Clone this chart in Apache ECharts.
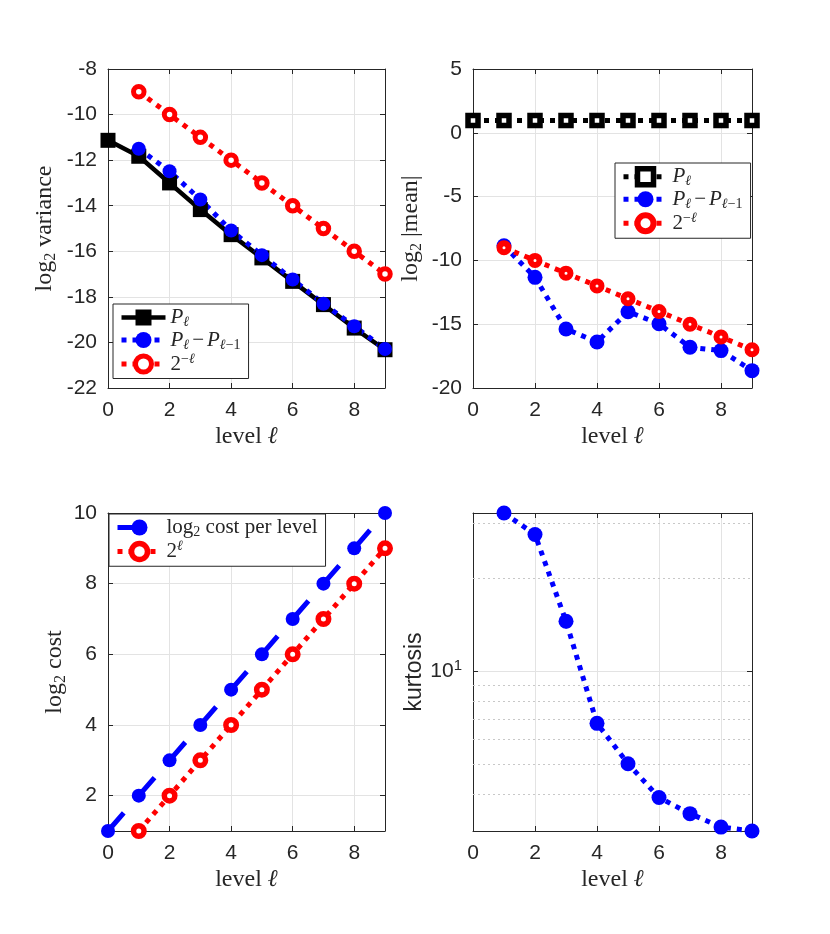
<!DOCTYPE html>
<html>
<head>
<meta charset="utf-8">
<title>MLMC level diagnostics</title>
<script src="https://cdn.jsdelivr.net/npm/echarts@6/dist/echarts.min.js"></script>
<style>
  html, body { margin: 0; padding: 0; background: #fff; }
  #chart { width: 830px; height: 934px; }
</style>
</head>
<body>
<div id="chart"></div>
<script>
  // levels
  const levelsAll = [0, 1, 2, 3, 4, 5, 6, 7, 8, 9];
  const levelsFine = [1, 2, 3, 4, 5, 6, 7, 8, 9];
  const xTickLabels = [0, 2, 4, 6, 8];

  // log2 variance
  const varP = [-11.13, -11.83, -13.0, -14.17, -15.27, -16.29, -17.32, -18.34, -19.37, -20.32];
  const varDP = [-11.5, -12.49, -13.73, -15.09, -16.17, -17.24, -18.30, -19.29, -20.29];
  const varRef = [-9, -10, -11, -12, -13, -14, -15, -16, -17];

  // log2 |mean|
  const meanP = [0.97, 0.97, 0.97, 0.97, 0.97, 0.97, 0.97, 0.97, 0.97, 0.97];
  const meanDP = [-8.85, -11.33, -15.38, -16.39, -14.02, -14.96, -16.81, -17.07, -18.64];
  const meanRef = [-9, -10, -11, -12, -13, -14, -15, -16, -17];

  // log2 cost
  const costLevel = [1, 2, 3, 4, 5, 6, 7, 8, 9, 10];
  const costRef = [1, 2, 3, 4, 5, 6, 7, 8, 9];

  // kurtosis (log axis)
  const kurt = [32.5, 27.7, 14.5, 6.78, 5.02, 3.90, 3.46, 3.13, 3.04];
  const kurtMinorGrid = [4, 5, 6, 7, 8, 9, 20, 30];

  const AX = '#262626';
  const GRIDC = '#e3e3e3';
  const SERIF = 'Liberation Serif';
  const SANS = 'Liberation Sans';
  const BLUE = '#0000ff';
  const RED = '#ff0000';
  const TICK_FS = 21;

  function pairs(xs, ys) { return xs.map(function (x, i) { return [x, ys[i]]; }); }

  function texRich(size, lh) {
    const sub = Math.round(size * 0.68);
    return {
      n: { fontFamily: SERIF, fontSize: size, lineHeight: lh, color: AX },
      i: { fontFamily: SERIF, fontStyle: 'italic', fontSize: size, lineHeight: lh, color: AX },
      m: { fontFamily: SERIF, fontSize: size, lineHeight: lh, color: AX, padding: [0, 3, 0, 3] },
      sub: { fontFamily: SERIF, fontSize: sub, lineHeight: sub, verticalAlign: 'bottom', color: AX },
      subi: { fontFamily: SERIF, fontStyle: 'italic', fontSize: sub, lineHeight: sub, verticalAlign: 'bottom', color: AX },
      sup: { fontFamily: SERIF, fontSize: sub, lineHeight: sub, verticalAlign: 'top', color: AX },
      supi: { fontFamily: SERIF, fontStyle: 'italic', fontSize: sub, lineHeight: sub, verticalAlign: 'top', color: AX }
    };
  }
  const nameRich = texRich(24, 28);
  const legendRich = texRich(21, 24);

  const legendText = {
    varP: '{i|P}{subi|ℓ}',
    varDP: '{i|P}{subi|ℓ}{m|−}{i|P}{subi|ℓ}{sub|−1}',
    varRef: '{n|2}{sup|−}{supi|ℓ}',
    meanP: '{i|P}{subi|ℓ}',
    meanDP: '{i|P}{subi|ℓ}{m|−}{i|P}{subi|ℓ}{sub|−1}',
    meanRef: '{n|2}{sup|−}{supi|ℓ}',
    cost: '{n|log}{sub|2}{n| cost per level}',
    costRef: '{n|2}{supi|ℓ}'
  };

  function xAxes(g) {
    const common = {
      type: 'value', gridIndex: g, min: 0, max: 9, interval: 2,
      axisLine: { show: true, onZero: false, lineStyle: { color: AX, width: 1 } },
      axisTick: { show: true, inside: true, length: 5, lineStyle: { color: AX } }
    };
    return [
      Object.assign({}, common, {
        position: 'bottom',
        name: '{n|level }{i|ℓ}', nameLocation: 'middle', nameGap: 35,
        nameTextStyle: { rich: nameRich },
        axisLabel: {
          margin: 12, color: AX, fontFamily: SANS, fontSize: TICK_FS,
          formatter: function (v) { return xTickLabels.indexOf(v) >= 0 ? String(v) : ''; }
        },
        splitLine: { show: true, lineStyle: { color: GRIDC, width: 1 } }
      }),
      Object.assign({}, common, {
        position: 'top', axisLabel: { show: false }, splitLine: { show: false }
      })
    ];
  }

  function yAxes(g, o) {
    const common = {
      type: o.type || 'value', gridIndex: g, min: o.min, max: o.max,
      axisLine: { show: true, onZero: false, lineStyle: { color: AX, width: 1 } },
      axisTick: { show: true, inside: true, length: 5, lineStyle: { color: AX } }
    };
    if (o.interval) common.interval = o.interval;
    if (o.step) { common.minInterval = o.step; common.maxInterval = o.step; }
    return [
      Object.assign({}, common, {
        position: 'left',
        name: o.name, nameLocation: 'middle', nameGap: o.nameGap,
        nameTextStyle: o.nameStyle || { rich: nameRich },
        axisLabel: {
          margin: 11, color: AX, fontFamily: SANS, fontSize: TICK_FS,
          formatter: o.fmt, rich: o.labelRich
        },
        splitLine: { show: true, lineStyle: { color: GRIDC, width: 1 } }
      }),
      Object.assign({}, common, {
        position: 'right', axisLabel: { show: false }, splitLine: { show: false }
      })
    ];
  }

  function legendAt(left, top, names) {
    return {
      data: names, left: left, top: top, orient: 'vertical',
      backgroundColor: '#fff', borderColor: AX, borderWidth: 1, borderRadius: 0,
      padding: [3, 8, 4, 6], itemWidth: 44, itemHeight: 20, itemGap: 0,
      selectedMode: false,
      lineStyle: { width: 'inherit' },
      itemStyle: { borderWidth: 'inherit' },
      textStyle: { rich: legendRich, color: AX },
      formatter: function (name) { return legendText[name]; }
    };
  }

  const dotted = [5, 6];
  const dashed = [24, 22.86];

  const chart = echarts.init(document.getElementById('chart'), null, { renderer: 'canvas' });
  chart.setOption({
    animation: false,
    backgroundColor: '#fff',
    grid: [
      { left: 108, top: 69, width: 277, height: 319 },
      { left: 473, top: 69, width: 279, height: 319 },
      { left: 108, top: 513, width: 277, height: 318 },
      { left: 473, top: 513, width: 279, height: 318 }
    ],
    xAxis: [].concat(xAxes(0), xAxes(1), xAxes(2), xAxes(3)),
    yAxis: [].concat(
      yAxes(0, { min: -22, max: -8, interval: 2, nameGap: 49,
        name: '{n|log}{sub|2}{n| variance}' }),
      yAxes(1, { min: -20, max: 5, interval: 5, nameGap: 48,
        name: '{n|log}{sub|2}{n| |mean|}' }),
      yAxes(2, { min: 1, max: 10, step: 2, nameGap: 39,
        name: '{n|log}{sub|2}{n| cost}',
        fmt: function (v) { return v % 2 === 0 ? String(v) : ''; } }),
      yAxes(3, { type: 'log', min: Math.min.apply(null, kurt), max: Math.max.apply(null, kurt), nameGap: 46,
        name: 'kurtosis',
        nameStyle: { fontFamily: SANS, fontSize: 23, color: AX },
        fmt: function (v) { return Math.abs(v - 10) < 1e-9 ? '{b|10}{s|1}' : ''; },
        labelRich: {
          b: { fontFamily: SANS, fontSize: TICK_FS, lineHeight: 26, color: AX },
          s: { fontFamily: SANS, fontSize: 15, lineHeight: 15, verticalAlign: 'top', color: AX }
        } })
    ),
    legend: [
      legendAt(113, 304, ['varP', 'varDP', 'varRef']),
      legendAt(615, 163, ['meanP', 'meanDP', 'meanRef']),
      legendAt(109, 514, ['cost', 'costRef'])
    ],
    series: [
      // log2 variance
      { name: 'varP', type: 'line', xAxisIndex: 0, yAxisIndex: 0, clip: false,
        data: pairs(levelsAll, varP), symbol: 'rect', symbolSize: 15,
        lineStyle: { color: '#000', width: 4.5 }, itemStyle: { color: '#000' } },
      { name: 'varDP', type: 'line', xAxisIndex: 0, yAxisIndex: 0, clip: false,
        data: pairs(levelsFine, varDP), symbol: 'circle', symbolSize: 14,
        lineStyle: { color: BLUE, width: 5, type: dotted }, itemStyle: { color: BLUE } },
      { name: 'varRef', type: 'line', xAxisIndex: 0, yAxisIndex: 0, clip: false,
        data: pairs(levelsFine, varRef), symbol: 'circle', symbolSize: 10.5,
        lineStyle: { color: RED, width: 5, type: dotted },
        itemStyle: { color: '#fff', borderColor: RED, borderWidth: 5 } },

      // log2 |mean|
      { name: 'meanP', type: 'line', xAxisIndex: 2, yAxisIndex: 2, clip: false,
        data: pairs(levelsAll, meanP), symbol: 'rect', symbolSize: 10,
        lineStyle: { color: '#000', width: 5, type: dotted },
        itemStyle: { color: '#fff', borderColor: '#000', borderWidth: 5.5 } },
      { name: 'meanDP', type: 'line', xAxisIndex: 2, yAxisIndex: 2, clip: false,
        data: pairs(levelsFine, meanDP), symbol: 'circle', symbolSize: 15,
        lineStyle: { color: BLUE, width: 5, type: dotted }, itemStyle: { color: BLUE } },
      { name: 'meanRef', type: 'line', xAxisIndex: 2, yAxisIndex: 2, clip: false,
        data: pairs(levelsFine, meanRef), symbol: 'circle', symbolSize: 9,
        lineStyle: { color: RED, width: 5, type: dotted },
        itemStyle: { color: '#fff', borderColor: RED, borderWidth: 6 } },

      // log2 cost
      { name: 'cost', type: 'line', xAxisIndex: 4, yAxisIndex: 4, clip: false,
        data: pairs(levelsAll, costLevel), symbol: 'circle', symbolSize: 14,
        lineStyle: { color: BLUE, width: 5, type: dashed }, itemStyle: { color: BLUE } },
      { name: 'costRef', type: 'line', xAxisIndex: 4, yAxisIndex: 4, clip: false,
        data: pairs(levelsFine, costRef), symbol: 'circle', symbolSize: 10.5,
        lineStyle: { color: RED, width: 5, type: dotted },
        itemStyle: { color: '#fff', borderColor: RED, borderWidth: 5.5 } },

      // kurtosis
      { name: 'kurt', type: 'line', xAxisIndex: 6, yAxisIndex: 6, clip: false,
        data: pairs(levelsFine, kurt), symbol: 'circle', symbolSize: 15,
        lineStyle: { color: BLUE, width: 5, type: dotted }, itemStyle: { color: BLUE },
        markLine: {
          silent: true, symbol: ['none', 'none'], z: 1, animation: false,
          label: { show: false },
          lineStyle: { color: '#c8c8c8', type: [2, 3], width: 1 },
          emphasis: { disabled: true },
          data: kurtMinorGrid.map(function (v) { return { yAxis: v }; })
        } }
    ]
  });
</script>
</body>
</html>
